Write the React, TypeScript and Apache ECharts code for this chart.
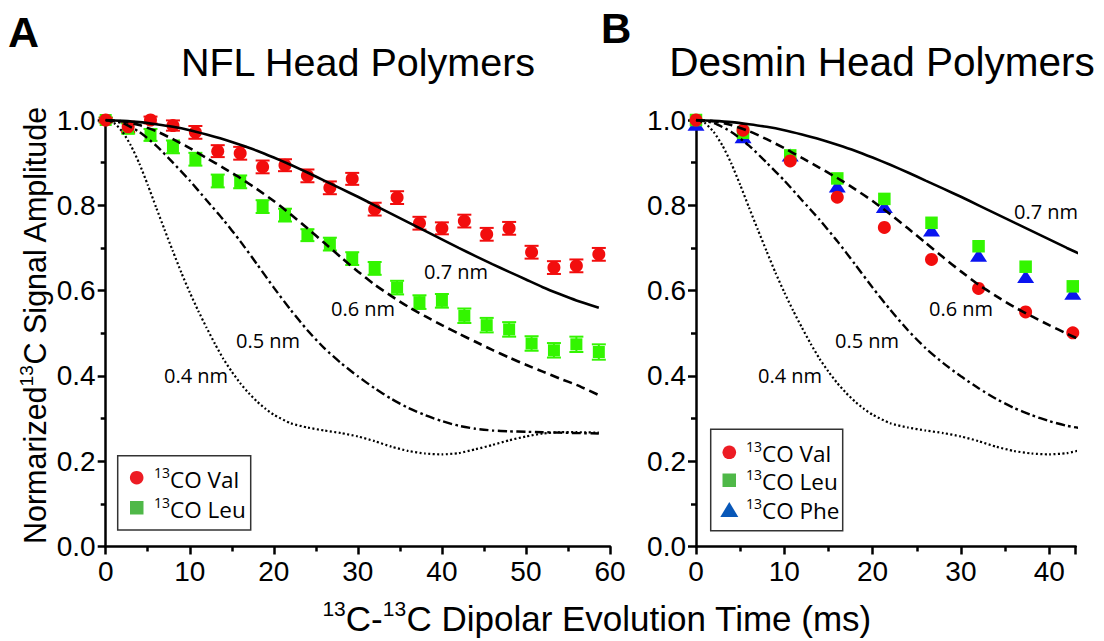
import React, { useEffect, useRef } from "react";
import * as echarts from "echarts";

// ---------- DATA ----------
const T_NFL = [0, 2.67, 5.33, 8, 10.67, 13.33, 16, 18.67, 21.33, 24, 26.67, 29.33, 32, 34.67, 37.33, 40, 42.67, 45.33, 48, 50.67, 53.33, 56, 58.67];
const NFL_VAL = [1.0, 0.984, 1.0, 0.987, 0.971, 0.927, 0.922, 0.89, 0.894, 0.869, 0.841, 0.862, 0.791, 0.818, 0.758, 0.746, 0.763, 0.732, 0.746, 0.69, 0.654, 0.658, 0.685];
const NFL_VAL_ERR = [0.005, 0.012, 0.008, 0.012, 0.015, 0.014, 0.015, 0.015, 0.014, 0.015, 0.015, 0.014, 0.015, 0.015, 0.015, 0.014, 0.015, 0.015, 0.015, 0.015, 0.015, 0.015, 0.015];
const NFL_LEU = [1.0, 0.98, 0.965, 0.937, 0.908, 0.857, 0.855, 0.797, 0.777, 0.73, 0.709, 0.675, 0.652, 0.607, 0.573, 0.576, 0.541, 0.519, 0.509, 0.476, 0.46, 0.474, 0.456];
const NFL_LEU_ERR = [0.006, 0.012, 0.014, 0.015, 0.015, 0.015, 0.015, 0.015, 0.015, 0.014, 0.015, 0.015, 0.015, 0.016, 0.016, 0.016, 0.017, 0.017, 0.017, 0.017, 0.017, 0.018, 0.018];

const T_DES = [0, 5.33, 10.67, 16, 21.33, 26.67, 32, 37.33, 42.67];
const DES_VAL = [1.0, 0.976, 0.904, 0.819, 0.748, 0.673, 0.605, 0.55, 0.501];
const DES_LEU = [1.0, 0.97, 0.917, 0.863, 0.815, 0.759, 0.704, 0.656, 0.61];
const DES_PHE = [0.99, 0.961, 0.918, 0.845, 0.797, 0.742, 0.683, 0.633, 0.594];

// simulated curves [time (ms), amplitude]
const CURVE_07 = [[0, 1.0], [2, 0.998], [4, 0.995], [6, 0.99], [8, 0.984], [10, 0.976], [12, 0.966], [14, 0.955], [16, 0.942], [18, 0.928], [20, 0.912], [22, 0.895], [24, 0.877], [26, 0.858], [28, 0.839], [30, 0.82], [32, 0.8], [34, 0.78], [36, 0.76], [38, 0.74], [40, 0.72], [42, 0.7], [44, 0.681], [46, 0.662], [48, 0.644], [50, 0.626], [52, 0.608], [54, 0.592], [56, 0.577], [58.67, 0.56]];
const CURVE_06 = [[0, 1.0], [2, 0.997], [4, 0.988], [6, 0.974], [8, 0.955], [10, 0.934], [12, 0.911], [14, 0.888], [16, 0.864], [18, 0.838], [20, 0.81], [22, 0.779], [24, 0.746], [26, 0.712], [28, 0.678], [30, 0.645], [32, 0.614], [34, 0.587], [36, 0.562], [38, 0.54], [40, 0.519], [42, 0.499], [44, 0.48], [46, 0.461], [48, 0.443], [50, 0.426], [52, 0.41], [54, 0.394], [56, 0.379], [58.67, 0.355]];
const CURVE_05 = [[0, 1.0], [2, 0.993], [4, 0.972], [6, 0.94], [8, 0.9], [10, 0.858], [12, 0.812], [14, 0.766], [16, 0.716], [18, 0.662], [20, 0.607], [22, 0.555], [24, 0.507], [26, 0.465], [28, 0.43], [30, 0.399], [32, 0.371], [34, 0.346], [36, 0.325], [38, 0.308], [40, 0.294], [42, 0.283], [44, 0.276], [46, 0.272], [48, 0.27], [50, 0.269], [52, 0.268], [54, 0.267], [56, 0.266], [58.67, 0.265]];
const CURVE_04 = [[0, 1.0], [1, 0.993], [2, 0.972], [3, 0.94], [4, 0.898], [5, 0.848], [6, 0.795], [7, 0.743], [8, 0.692], [9, 0.642], [10, 0.596], [11, 0.553], [12, 0.513], [13, 0.475], [14, 0.44], [15, 0.41], [16, 0.383], [17, 0.36], [18, 0.34], [19, 0.323], [20, 0.309], [22, 0.289], [24, 0.279], [26, 0.272], [28, 0.266], [30, 0.258], [32, 0.247], [34, 0.234], [36, 0.224], [38, 0.218], [40, 0.216], [42, 0.219], [44, 0.228], [46, 0.238], [48, 0.249], [50, 0.258], [52, 0.265], [54, 0.268], [56, 0.268], [58.67, 0.267]];

const CURVE_LABELS = ["0.7 nm", "0.6 nm", "0.5 nm", "0.4 nm"];
const TITLES = ["NFL Head Polymers", "Desmin Head Polymers"];

// ---------- STYLE ----------
const FONT = "'Liberation Sans', Arial, Helvetica, sans-serif";
const LFONT = "'Open Sans', 'Noto Sans', sans-serif";
const RED = "#f20d0d";
const GREEN = "#33f500";
const BLUE = "#0a14f0";
const LEG_RED = "#ed1c24";
const LEG_GREEN = "#4fb848";
const LEG_BLUE = "#0857b8";

const GRID_TOP = 120;
const GRID_H = 426.5;

function axisCommon() {
  return {
    axisLine: { show: true, onZero: false, lineStyle: { color: "#000", width: 2.5 } },
    axisTick: { show: true, inside: false, length: 8, lineStyle: { color: "#000", width: 2.5 } },
    minorTick: { show: true, splitNumber: 2, length: 5, lineStyle: { color: "#000", width: 2.5 } },
    splitLine: { show: false },
    minorSplitLine: { show: false },
  };
}

function errSeries(t: number[], v: number[], e: number[], color: string, xi: number) {
  return {
    type: "custom",
    xAxisIndex: xi,
    yAxisIndex: xi,
    silent: true,
    data: t.map((x, i) => [x, v[i] - e[i], v[i] + e[i]]),
    encode: { x: 0, y: [1, 2] },
    renderItem: (params: any, api: any) => {
      const x = api.value(0);
      const p1 = api.coord([x, api.value(2)]);
      const p2 = api.coord([x, api.value(1)]);
      const hw = 7;
      const st = { stroke: color, lineWidth: 2 };
      return {
        type: "group",
        children: [
          { type: "line", shape: { x1: p1[0], y1: p1[1], x2: p2[0], y2: p2[1] }, style: st },
          { type: "line", shape: { x1: p1[0] - hw, y1: p1[1], x2: p1[0] + hw, y2: p1[1] }, style: st },
          { type: "line", shape: { x1: p2[0] - hw, y1: p2[1], x2: p2[0] + hw, y2: p2[1] }, style: st },
        ],
      };
    },
  };
}

function scatter(t: number[], v: number[], color: string, symbol: string, size: any, xi: number) {
  return {
    type: "scatter",
    xAxisIndex: xi,
    yAxisIndex: xi,
    symbol,
    symbolSize: size,
    silent: true,
    itemStyle: { color, opacity: 1 },
    data: t.map((x, i) => [x, v[i]]),
  };
}

function curve(d: number[][], type: any, width: number, xi: number) {
  return {
    type: "line",
    xAxisIndex: xi,
    yAxisIndex: xi,
    showSymbol: false,
    silent: true,
    smooth: 0.2,
    lineStyle: { color: "#000", width, type, cap: "butt" },
    data: d,
  };
}

function curveSet(xi: number) {
  return [
    curve(CURVE_07, "solid", 2.6, xi),
    curve(CURVE_06, [9, 5], 2.6, xi),
    curve(CURVE_05, [9, 3.5, 2.5, 3.5], 2.4, xi),
    curve(CURVE_04, [2, 2.4], 2.2, xi),
  ];
}

function labelText(text: string, x: number, y: number) {
  return {
    type: "text",
    x,
    y,
    silent: true,
    style: { text, fontFamily: LFONT, fontSize: 20, fill: "#000", align: "center", verticalAlign: "middle" },
  };
}

function legendText(main: string, x: number, y: number) {
  return {
    type: "text",
    x,
    y,
    silent: true,
    style: {
      text: `{s|13}{m|${main}}`,
      align: "left",
      verticalAlign: "middle",
      fill: "#000",
      rich: {
        s: { fontFamily: LFONT, fontSize: 14, lineHeight: 14, verticalAlign: "top", fill: "#000" },
        m: { fontFamily: LFONT, fontSize: 22.5, lineHeight: 28, verticalAlign: "middle", fill: "#000" },
      },
    },
  };
}

export default function App() {
  const ref = useRef<HTMLDivElement>(null);
  useEffect(() => {
    if (!ref.current) return;
    const chart = echarts.init(ref.current, null, { renderer: "svg" });
    const xLabel = { color: "#000", fontSize: 28, fontFamily: FONT, margin: 11 };
    const yLabel = { color: "#000", fontSize: 28, fontFamily: FONT, margin: 10, formatter: (v: number) => v.toFixed(1) };
    const option: any = {
      animation: false,
      backgroundColor: "#fff",
      grid: [
        { left: 105.7, top: GRID_TOP, width: 504.3, height: GRID_H, containLabel: false },
        { left: 696, top: GRID_TOP, width: 379.7, height: GRID_H, containLabel: false },
      ],
      xAxis: [
        { type: "value", gridIndex: 0, min: 0, max: 60, interval: 10, ...axisCommon(), axisLabel: xLabel },
        { type: "value", gridIndex: 1, min: 0, max: 43, interval: 10, ...axisCommon(), axisLabel: { ...xLabel, showMaxLabel: false } },
      ],
      yAxis: [
        { type: "value", gridIndex: 0, min: 0, max: 1, interval: 0.2, ...axisCommon(), axisLabel: yLabel },
        { type: "value", gridIndex: 1, min: 0, max: 1, interval: 0.2, ...axisCommon(), axisLabel: yLabel },
      ],
      series: [
        ...curveSet(0),
        errSeries(T_NFL, NFL_LEU, NFL_LEU_ERR, GREEN, 0),
        scatter(T_NFL, NFL_LEU, GREEN, "rect", 12, 0),
        errSeries(T_NFL, NFL_VAL, NFL_VAL_ERR, RED, 0),
        scatter(T_NFL, NFL_VAL, RED, "circle", 13, 0),
        ...curveSet(1),
        scatter(T_DES, DES_PHE, BLUE, "triangle", [17, 13], 1),
        scatter(T_DES, DES_LEU, GREEN, "rect", 12.5, 1),
        scatter(T_DES, DES_VAL, RED, "circle", 13, 1),
      ],
      graphic: [
        { type: "text", x: 8, y: 32, silent: true, style: { text: "A", fontFamily: FONT, fontSize: 43, fontWeight: "bold", fill: "#000", align: "left", verticalAlign: "middle" } },
        { type: "text", x: 601, y: 28, silent: true, style: { text: "B", fontFamily: FONT, fontSize: 42, fontWeight: "bold", fill: "#000", align: "left", verticalAlign: "middle" } },
        { type: "text", x: 358, y: 62, silent: true, style: { text: TITLES[0], fontFamily: FONT, fontSize: 39.5, fill: "#000", align: "center", verticalAlign: "middle" } },
        { type: "text", x: 882, y: 62, silent: true, style: { text: TITLES[1], fontFamily: FONT, fontSize: 40.5, fill: "#000", align: "center", verticalAlign: "middle" } },
        {
          type: "text", x: 35, y: 325, rotation: Math.PI / 2, silent: true,
          style: {
            text: "{m|Normarized}{s|13}{m|C Signal Amplitude}",
            align: "center", verticalAlign: "middle", fill: "#000",
            rich: {
              m: { fontFamily: FONT, fontSize: 30.5, lineHeight: 36, verticalAlign: "middle", fill: "#000" },
              s: { fontFamily: FONT, fontSize: 19, lineHeight: 19, verticalAlign: "top", fill: "#000" },
            },
          },
        },
        {
          type: "text", x: 597, y: 618, silent: true,
          style: {
            text: "{s|13}{m|C-}{s|13}{m|C Dipolar Evolution Time (ms)}",
            align: "center", verticalAlign: "middle", fill: "#000",
            rich: {
              m: { fontFamily: FONT, fontSize: 35, lineHeight: 40, verticalAlign: "middle", fill: "#000" },
              s: { fontFamily: FONT, fontSize: 21, lineHeight: 21, verticalAlign: "top", fill: "#000" },
            },
          },
        },
        // curve labels (A)
        labelText(CURVE_LABELS[0], 456, 271),
        labelText(CURVE_LABELS[1], 363, 308),
        labelText(CURVE_LABELS[2], 268, 340),
        labelText(CURVE_LABELS[3], 196, 375),
        // curve labels (B)
        labelText(CURVE_LABELS[0], 1046, 211),
        labelText(CURVE_LABELS[1], 961, 308),
        labelText(CURVE_LABELS[2], 867, 340),
        labelText(CURVE_LABELS[3], 790, 375),
        // legend A
        { type: "rect", silent: true, shape: { x: 117.7, y: 455.7, width: 133, height: 74.3 }, style: { fill: "#fff", stroke: "#333", lineWidth: 1.5 } },
        { type: "circle", silent: true, shape: { cx: 136.7, cy: 477.7, r: 6.8 }, style: { fill: LEG_RED } },
        { type: "rect", silent: true, shape: { x: 130, y: 501, width: 13.5, height: 13.5 }, style: { fill: LEG_GREEN } },
        legendText("CO Val", 154, 479),
        legendText("CO Leu", 154, 509),
        // legend B
        { type: "rect", silent: true, shape: { x: 710.7, y: 429.3, width: 132, height: 101.4 }, style: { fill: "#fff", stroke: "#333", lineWidth: 1.5 } },
        { type: "circle", silent: true, shape: { cx: 729.3, cy: 452.3, r: 6.8 }, style: { fill: LEG_RED } },
        { type: "rect", silent: true, shape: { x: 722.5, y: 473.5, width: 13.5, height: 13.5 }, style: { fill: LEG_GREEN } },
        { type: "polygon", silent: true, shape: { points: [[729.3, 502], [738.3, 517], [720.3, 517]] }, style: { fill: LEG_BLUE } },
        legendText("CO Val", 746, 453),
        legendText("CO Leu", 746, 481),
        legendText("CO Phe", 746, 510),
      ],
    };
    chart.setOption(option);
    return () => chart.dispose();
  }, []);
  return (
    <div
      ref={ref}
      style={{ position: "fixed", left: 0, top: 0, width: 1104, height: 641, background: "#fff" }}
    />
  );
}
